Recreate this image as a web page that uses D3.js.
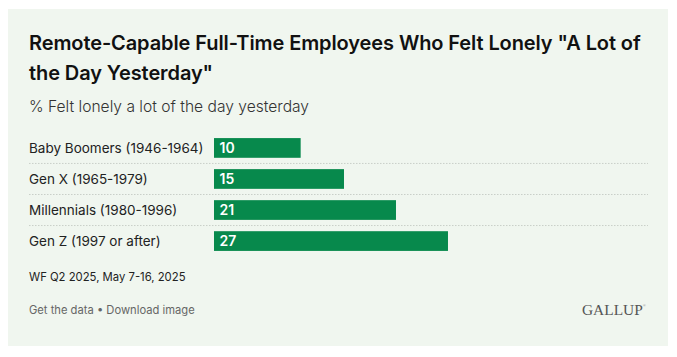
<!DOCTYPE html>
<html><head><meta charset="utf-8">
<script src="https://cdn.jsdelivr.net/npm/d3@7"></script>
<style>
html,body{margin:0;padding:0;background:#fff;}
svg{display:block;}
</style></head>
<body>
<svg id="chart" width="677" height="357"></svg>
<script>
const categories = ["Baby Boomers (1946-1964)", "Gen X (1965-1979)", "Millennials (1980-1996)", "Gen Z (1997 or after)"];
const values = [10, 15, 21, 27];
const titleLines = ["Remote-Capable Full-Time Employees Who Felt Lonely \"A Lot of", "the Day Yesterday\""];
const subtitle = "% Felt lonely a lot of the day yesterday";
const source = "WF Q2 2025, May 7-16, 2025";

const SANS = "Inter, 'Noto Sans', sans-serif";
const svg = d3.select("#chart").attr("font-family", SANS);
svg.append("rect").attr("x", 8).attr("y", 9).attr("width", 660).attr("height", 337).attr("fill", "#f0f6ef");

svg.selectAll("text.title").data(titleLines).enter().append("text")
  .attr("class", "title").attr("x", 29).attr("y", (d, i) => 50 + i * 29.5)
  .attr("font-size", 20).attr("font-weight", 600).attr("fill", "#111")
  .attr("letter-spacing", -0.1)
  .text(d => d);

svg.append("text").attr("x", 29).attr("y", 111.5).attr("font-size", 15.6).attr("font-weight", 300)
  .attr("fill", "#333").text(subtitle);

const x = d3.scaleLinear().domain([0, 50]).range([214, 647.3]);
const y = d3.scaleBand().domain(categories).range([132.5, 256.5]).paddingInner(0.365).paddingOuter(0.18);

const g = svg.append("g");
categories.slice(0, -1).forEach((c, i) => {
  const yy = y(c) + y.bandwidth() + (y.step() - y.bandwidth()) / 2;
  g.append("line").attr("x1", 29).attr("x2", 648).attr("y1", yy).attr("y2", yy)
    .attr("stroke", "#c9cfc8").attr("stroke-width", 1).attr("stroke-dasharray", "1.5,1.5");
});

g.selectAll("rect.bar").data(values).enter().append("rect").attr("class", "bar")
  .attr("x", x(0)).attr("y", (d, i) => y(categories[i]))
  .attr("width", d => x(d) - x(0)).attr("height", y.bandwidth()).attr("fill", "#07894c");

g.selectAll("text.cat").data(categories).enter().append("text").attr("class", "cat")
  .attr("x", 29).attr("y", d => y(d) + y.bandwidth() / 2).attr("dy", "0.35em")
  .attr("font-size", 13.5).attr("fill", "#222").text(d => d);

g.selectAll("text.val").data(values).enter().append("text").attr("class", "val")
  .attr("x", x(0) + 5.5).attr("y", (d, i) => y(categories[i]) + y.bandwidth() / 2).attr("dy", "0.36em")
  .attr("font-size", 14).attr("font-weight", 600).attr("fill", "#fff").text(d => d);

svg.append("text").attr("x", 29).attr("y", 280.5).attr("font-size", 11.3).attr("fill", "#222").text(source);
const foot = svg.append("text").attr("x", 29).attr("y", 314).attr("font-size", 11.2).attr("fill", "#666");
foot.append("tspan").text("Get the data");
foot.append("tspan").text(" \u2022 ");
foot.append("tspan").text("Download image");

const logo = svg.append("text").attr("x", 582).attr("y", 315)
  .style("font-family", "'Liberation Serif', 'DejaVu Serif', serif").attr("font-size", 15.4)
  .attr("fill", "#555");
logo.append("tspan").text("GALLUP");
logo.append("tspan").attr("dy", -8).attr("font-size", 4).attr("fill", "#888").text("\u00ae");
</script>
</body></html>
